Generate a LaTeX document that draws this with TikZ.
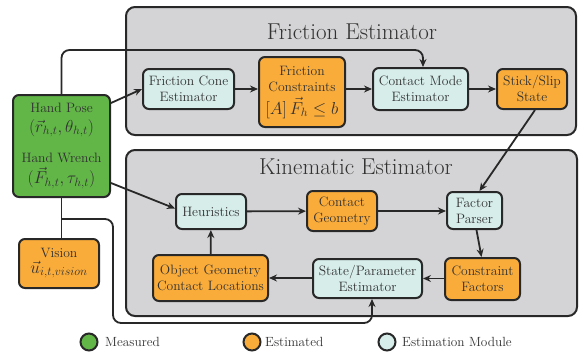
\documentclass[tikz,border=0pt]{standalone}
\usetikzlibrary{arrows.meta,calc}
\definecolor{meas}{RGB}{98,182,72}
\definecolor{esti}{RGB}{250,172,58}
\definecolor{modc}{RGB}{214,237,234}
\definecolor{grp}{RGB}{212,212,214}
\definecolor{ink}{RGB}{40,40,40}
\definecolor{txt}{RGB}{50,50,50}
\begin{document}
\begin{tikzpicture}[x=1pt,y=-1pt,
  box/.style={draw=ink, line width=2pt, rounded corners=6pt, inner sep=0pt, align=center, text=txt,
    font=\fontsize{13.6}{16}\selectfont},
  modbox/.style={box, fill=modc},
  estbox/.style={box, fill=esti},
  measbox/.style={box, fill=meas},
  group/.style={draw=ink, line width=2pt, fill=grp, rounded corners=9pt, inner sep=0pt},
  gtitle/.style={text=txt, font=\fontsize{23}{26}\selectfont},
  intext/.style={text=txt, inner sep=0pt, font=\fontsize{13.6}{16}\selectfont},
  inmath/.style={text=txt, inner sep=0pt, font=\fontsize{18}{20}\selectfont},
  arr/.style={draw=ink, line width=1.8pt, -{Stealth[length=8pt,width=7pt]}},
  plain/.style={draw=ink, line width=1.8pt},
  legc/.style={circle, draw=ink, line width=2pt, minimum size=17pt, inner sep=0pt},
  legt/.style={text=txt, anchor=west, inner sep=0pt, font=\fontsize{13.3}{15}\selectfont}
]
\useasboundingbox (0,0) rectangle (579,354);
\fill[white] (0,0) rectangle (579,354);

% groups
\node[group, minimum width=450pt, minimum height=128pt] (fe) at (351,71) {};
\node[group, minimum width=451pt, minimum height=166pt] (ke) at (351.5,233) {};
\node[gtitle] (fet) at (352,32) {Friction Estimator};
\node[gtitle] (ket) at (356,167) {Kinematic Estimator};

% friction estimator nodes
\node[modbox, minimum width=91pt, minimum height=40pt] (fce) at (188.5,89) {Friction Cone\\Estimator};
\node[estbox, minimum width=86pt, minimum height=70pt] (fc) at (302,92) {};
\node[intext] (fc1) at (302,71) {Friction};
\node[intext] (fc2) at (302,86.5) {Constraints};
\node[inmath, font=\fontsize{17}{20}\selectfont] (fc3) at (302,108) {$[A]\,\vec{F}_h \leq b$};
\node[modbox, minimum width=95pt, minimum height=42pt] (cme) at (420.5,89) {Contact Mode\\Estimator};
\node[estbox, minimum width=70pt, minimum height=40pt] (ss) at (532,89) {Stick/Slip\\State};

% inputs
\node[measbox, minimum width=97pt, minimum height=102pt] (hand) at (61.5,146) {};
\node[intext] (h1) at (61.5,108) {Hand Pose};
\node[inmath] (h2) at (61.5,128) {$(\vec{r}_{h,t},\theta_{h,t})$};
\node[intext] (h3) at (61.5,158) {Hand Wrench};
\node[inmath] (h4) at (61.5,178) {$(\vec{F}_{h,t},\tau_{h,t})$};
\node[estbox, minimum width=80pt, minimum height=49pt] (vis) at (59,263.5) {};
\node[intext] (v1) at (59,253) {Vision};
\node[inmath] (v2) at (59,269.5) {$\vec{u}_{i,t,vision}$};

% kinematic estimator nodes
\node[modbox, minimum width=70pt, minimum height=35pt] (heur) at (211,211.5) {Heuristics};
\node[estbox, minimum width=115pt, minimum height=46pt] (og) at (210.5,278) {Object Geometry\\Contact Locations};
\node[estbox, minimum width=70pt, minimum height=40pt] (cg) at (342,211) {Contact\\Geometry};
\node[modbox, minimum width=55pt, minimum height=37pt] (fp) at (474.5,210.5) {Factor\\Parser};
\node[estbox, minimum width=75pt, minimum height=42pt] (cf) at (482.5,279) {Constraint\\Factors};
\node[modbox, minimum width=109pt, minimum height=39pt] (sp) at (367.5,278.5) {State/Parameter\\Estimator};

% connectors
\draw[arr] ($(hand.north east)+(0,9)$) -- (fce.west);
\coordinate (topline) at (0,50);
\draw[arr, rounded corners=8pt] (hand.north) -- (hand.north |- topline) -- ($(cme.north |- topline)+(2.5,0)$) -- ($(cme.north)+(2.5,0)$);
\draw[arr] (fce) -- (fc.west |- fce);
\draw[arr] (fc.east |- cme) -- (cme);
\draw[arr] (cme) -- (ss);
\draw[arr] ($(ss.south)+(3,0)$) -- ($(fp.north)+(5,0)$);
\draw[arr] ($(hand.east)+(0,37)$) -- ($(heur.west)+(0,-3)$);
\draw[arr] (heur) -- (cg);
\draw[arr] (cg) -- (fp.west |- cg);
\draw[arr] ($(fp.south)+(2,0)$) -- ($(cf.north)+(-1,0)$);
\draw[arr] (cf.west |- sp) -- (sp);
\draw[arr] (sp.west |- og) -- (og);
\draw[arr] (og) -- (heur);
\draw[plain] (hand.south) -- (hand.south |- vis.north);
\coordinate (jn) at ($(hand.south)+(0,21)$);
\coordinate (bl) at (113,323);
\draw[arr, rounded corners=8pt] (jn) -| (bl) -| ($(sp.south)+(4.5,0)$);

% legend
\node[legc, fill=meas] (l1) at (89,342) {};
\node[legt] (l1t) at (105,342) {Measured};
\node[legc, fill=esti] (l2) at (252,342) {};
\node[legt] (l2t) at (265,342) {Estimated};
\node[legc, fill=modc] (l3) at (387,342) {};
\node[legt] (l3t) at (402,342) {Estimation Module};
\end{tikzpicture}
\end{document}
